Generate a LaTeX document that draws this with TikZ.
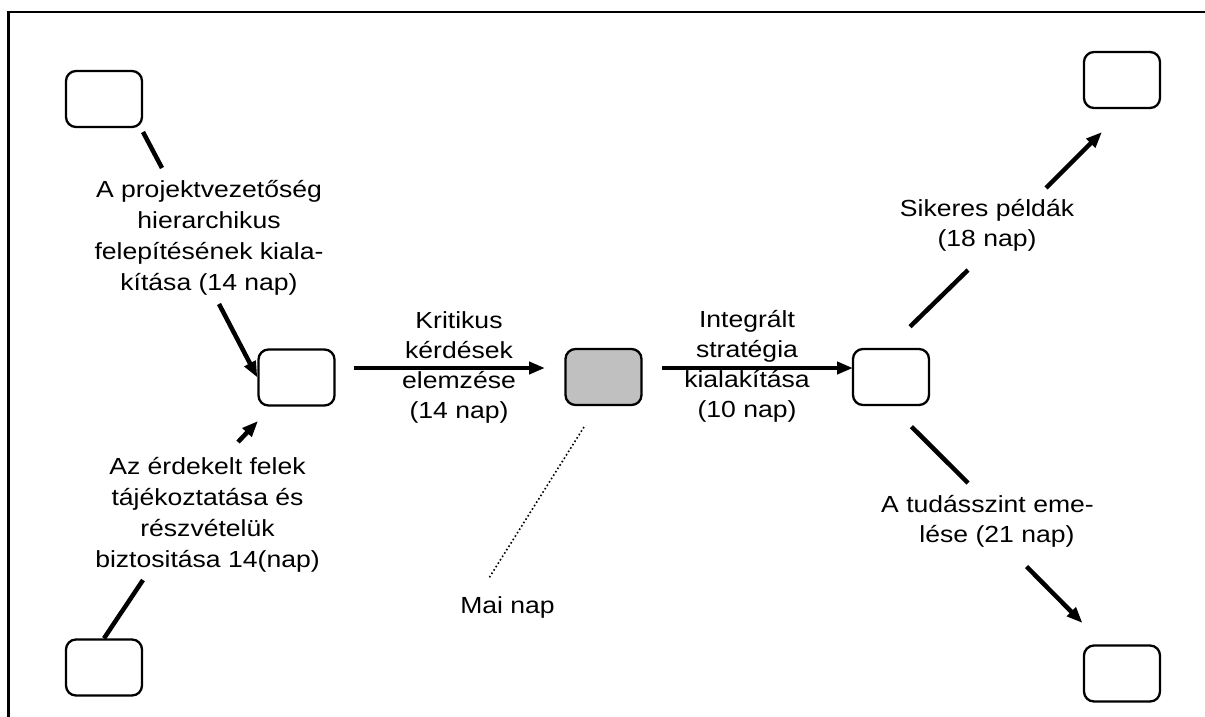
\documentclass[tikz,border=0pt]{standalone}
\usepackage{fontspec}
\setmainfont{Liberation Sans}[FakeStretch=1.14]
\usetikzlibrary{arrows.meta}
\definecolor{todaygray}{RGB}{192,192,192}

\begin{document}
\begin{tikzpicture}[x=1pt,y=-1pt,
  stage/.style={draw, line width=2.3pt, rounded corners=10pt,
    minimum width=76pt, minimum height=56pt, inner sep=0pt},
  today/.style={stage, fill=todaygray},
  label/.style={align=center, inner sep=0pt,
    font=\fontsize{23.3}{30}\selectfont},
  widelabel/.style={label, font=\fontsize{23.3}{31}\selectfont},
  link/.style={line width=4.5pt},
  flow/.style={link, -{Triangle[length=16pt,width=12pt]}},
  marker/.style={line width=1.6pt, dash pattern=on 1.6pt off 2.4pt},
]
\useasboundingbox (0,0) rectangle (1205,716);

% outer frame (runs off the right and bottom edges)
\draw[line width=2.5pt] (1206,12) -- (8.5,12) -- (8.5,717);

% milestones
\node[stage] (tl) at (104,99) {};
\node[stage] (bl) at (104,667.5) {};
\node[stage] (lm) at (296.5,377.5) {};
\node[today] (gb) at (603.5,377) {};
\node[stage] (rm) at (891,377) {};
\node[stage] (tr) at (1122,80) {};
\node[stage] (br) at (1122,673.5) {};

% activity labels
\node[widelabel] (lab1) at (209,238.3) {A projektvezetőség\\hierarchikus\\felepítésének kiala-\\kítása (14 nap)};
\node[widelabel] (lab2) at (207.5,515.3) {Az érdekelt felek\\tájékoztatása és\\részvételük\\biztositása 14(nap)};
\node[label] (lab3) at (459,367) {Kritikus\\kérdések\\elemzése\\(14 nap)};
\node[label] (lab4) at (747,366.8) {Integrált\\stratégia\\kialakítása\\(10 nap)};
\node[label] (lab5) at (987,225.8) {Sikeres példák\\(18 nap)};
\node[label] (lab6) at (987.5,521.5) {A tudásszint eme-\\\hspace*{19pt}lése (21 nap)};
\node[label] (lab7) at (507.5,607) {Mai nap};

% connector end points
\coordinate (a1) at (143,132);  \coordinate (a2) at (162,168);
\coordinate (b1) at (219,304);
\coordinate (c1) at (238,442);  \coordinate (c2) at (258,421);
\coordinate (d1) at (143,580);
\coordinate (e1) at (354,368);  \coordinate (e2) at (545,368);
\coordinate (f1) at (662,368);  \coordinate (f2) at (853,368);
\coordinate (g1) at (910,326.7);  \coordinate (g2) at (968,270);
\coordinate (g3) at (1046,188); \coordinate (g4) at (1102,132);
\coordinate (h1) at (911.5,426.7);  \coordinate (h2) at (968,483);
\coordinate (h3) at (1026.5,566.5); \coordinate (h4) at (1082.5,623);
\coordinate (m1) at (584,427);  \coordinate (m2) at (489,578);

% connectors
\draw[link] (a1) -- (a2);
\draw[flow] (b1) -- (lm.west);
\draw[flow] (c1) -- (c2);
\draw[link] (d1) -- (bl.north);
\draw[flow] (e1) -- (e2);
\draw[flow] (f1) -- (f2);
\draw[link] (g1) -- (g2);
\draw[flow] (g3) -- (g4);
\draw[link] (h1) -- (h2);
\draw[flow] (h3) -- (h4);
\draw[marker] (m1) -- (m2);
\end{tikzpicture}
\end{document}
